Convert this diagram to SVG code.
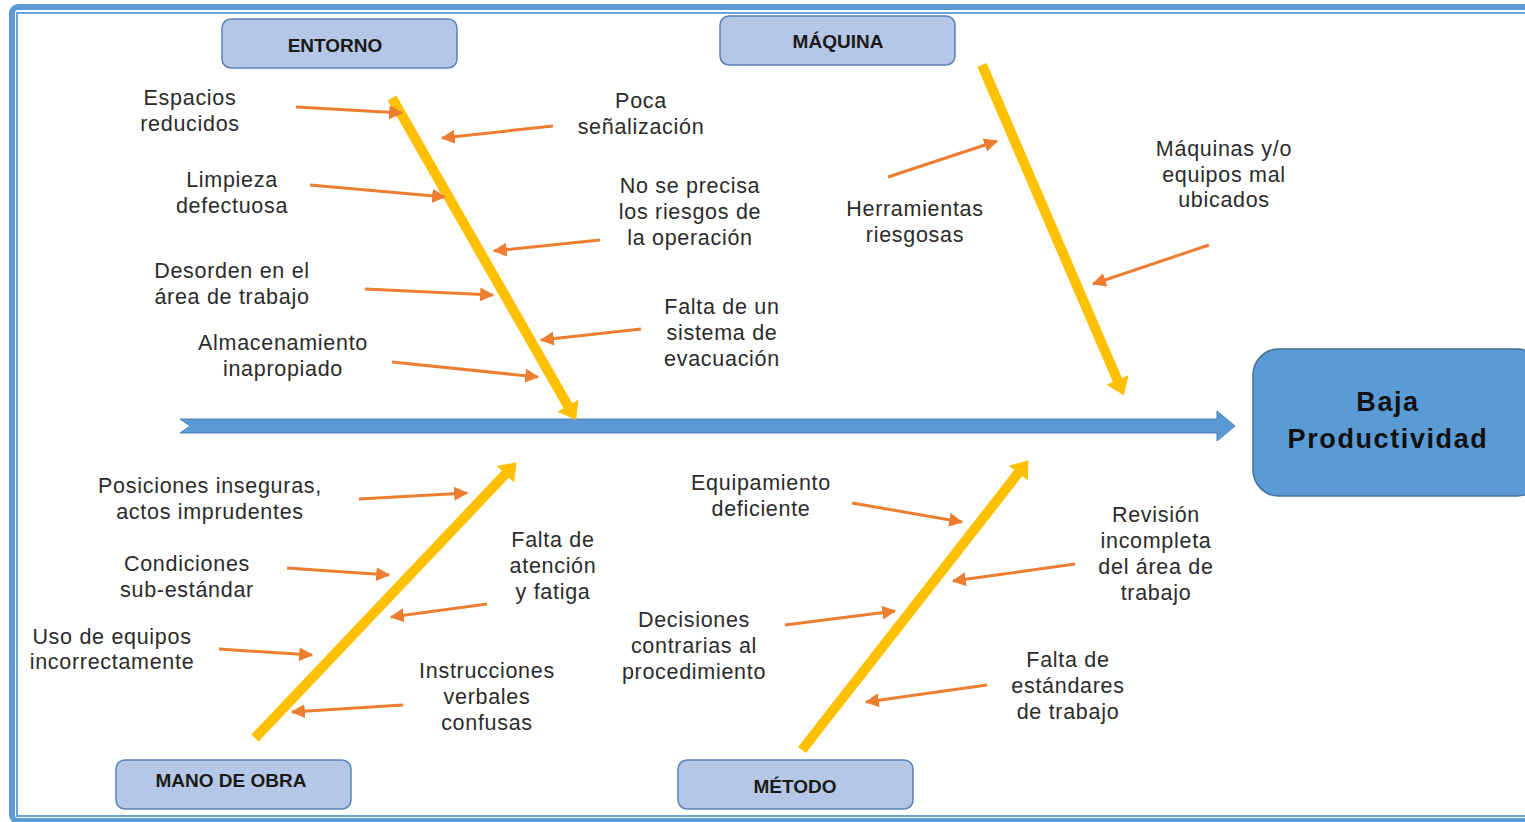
<svg xmlns="http://www.w3.org/2000/svg" width="1525" height="822" viewBox="0 0 1525 822">
<style>
.cat rect{fill:#b4c7e7;stroke:#5b82b8;stroke-width:1.5}
.cat text{font-family:"Liberation Sans",Arial,sans-serif;font-weight:bold;font-size:19px;fill:#1a1a1a;text-anchor:middle}
.lbl{font-family:"Liberation Sans",Arial,sans-serif;font-size:21.5px;fill:#2b2b2b;text-anchor:middle;letter-spacing:0.7px}
.bone{stroke:#ffc000;stroke-width:10;fill:none;marker-end:url(#ya)}
.sub{stroke:#ed7d31;stroke-width:3;fill:none;marker-end:url(#oa)}
</style>
<defs>
<marker id="ya" markerUnits="userSpaceOnUse" markerWidth="20" markerHeight="24" viewBox="0 -11 15 22" refX="1" refY="0" orient="auto"><path d="M0,-11 L15,0 L0,11 Z" fill="#ffc000"/></marker>
<marker id="oa" markerUnits="userSpaceOnUse" markerWidth="14" markerHeight="14" viewBox="0 -6 12 12" refX="11" refY="0" orient="auto"><path d="M0,-6 L12,0 L0,6 Z" fill="#ed7d31"/></marker>
</defs>
<rect width="1525" height="822" fill="#ffffff"/>
<g id="frame">
<rect x="12" y="7" width="1540" height="814" rx="6" fill="none" stroke="#5b9bd5" stroke-width="6"/>
<rect x="17" y="13" width="1530" height="803" fill="none" stroke="#5b9bd5" stroke-width="1.8"/>
</g>
<g id="connectors">
<polygon id="spine" points="180,419 1217,419 1217,411 1235,426 1217,441 1217,433 180,433 190,426" fill="#5b9bd5" stroke="#4a7fb5" stroke-width="1"/>
<line class="bone" x1="392" y1="98" x2="568.5" y2="406.7"/>
<line class="bone" x1="982" y1="65" x2="1117.9" y2="381.1"/>
<line class="bone" x1="255" y1="738" x2="506.1" y2="473.4"/>
<line class="bone" x1="802" y1="750" x2="1019" y2="472.2"/>
<line class="sub" x1="296" y1="107" x2="402" y2="113"/>
<line class="sub" x1="310" y1="185" x2="445" y2="197"/>
<line class="sub" x1="365" y1="289" x2="493" y2="295"/>
<line class="sub" x1="392" y1="362" x2="538" y2="377"/>
<line class="sub" x1="553" y1="126" x2="442" y2="138"/>
<line class="sub" x1="600" y1="240" x2="494" y2="251"/>
<line class="sub" x1="641" y1="329" x2="541" y2="340"/>
<line class="sub" x1="888" y1="177" x2="997" y2="141"/>
<line class="sub" x1="1209" y1="245" x2="1093" y2="284"/>
<line class="sub" x1="359" y1="499" x2="467" y2="493"/>
<line class="sub" x1="287" y1="568" x2="389" y2="575"/>
<line class="sub" x1="219" y1="649" x2="312" y2="655"/>
<line class="sub" x1="487" y1="604" x2="391" y2="617"/>
<line class="sub" x1="403" y1="705" x2="292" y2="712"/>
<line class="sub" x1="852" y1="503" x2="962" y2="522"/>
<line class="sub" x1="785" y1="625" x2="895" y2="611"/>
<line class="sub" x1="1075" y1="564" x2="953" y2="581"/>
<line class="sub" x1="987" y1="685" x2="866" y2="702"/>
</g>
<g id="entorno" class="cat"><rect x="222" y="19" width="235" height="49" rx="9"/><text x="335" y="52">ENTORNO</text></g>
<g id="maquina" class="cat"><rect x="720" y="16" width="235" height="49" rx="9"/><text x="838" y="48">MÁQUINA</text></g>
<g id="mano-de-obra" class="cat"><rect x="116" y="760" width="235" height="49" rx="9"/><text x="231" y="787">MANO DE OBRA</text></g>
<g id="metodo" class="cat"><rect x="678" y="760" width="235" height="49" rx="9"/><text x="795" y="793">MÉTODO</text></g>
<g id="efecto">
<rect x="1253" y="349" width="290" height="147" rx="26" fill="#5b9bd5" stroke="#41719c" stroke-width="1.5"/>
<text font-family="'Liberation Sans',Arial,sans-serif" font-weight="bold" font-size="27px" letter-spacing="1.6" fill="#111" text-anchor="middle"><tspan x="1388" y="411">Baja</tspan><tspan x="1388" y="448">Productividad</tspan></text>
</g>
<g id="causas">
<g id="c-espacios"><text class="lbl"><tspan x="190" y="105">Espacios</tspan><tspan x="190" y="131">reducidos</tspan></text></g>
<g id="c-poca"><text class="lbl"><tspan x="641" y="108">Poca</tspan><tspan x="641" y="134">señalización</tspan></text></g>
<g id="c-limpieza"><text class="lbl"><tspan x="232" y="187">Limpieza</tspan><tspan x="232" y="213">defectuosa</tspan></text></g>
<g id="c-riesgos"><text class="lbl"><tspan x="690" y="193">No se precisa</tspan><tspan x="690" y="219">los riesgos de</tspan><tspan x="690" y="245">la operación</tspan></text></g>
<g id="c-desorden"><text class="lbl"><tspan x="232" y="278">Desorden en el</tspan><tspan x="232" y="304">área de trabajo</tspan></text></g>
<g id="c-evacuacion"><text class="lbl"><tspan x="722" y="314">Falta de un</tspan><tspan x="722" y="340">sistema de</tspan><tspan x="722" y="366">evacuación</tspan></text></g>
<g id="c-almacen"><text class="lbl"><tspan x="283" y="350">Almacenamiento</tspan><tspan x="283" y="376">inapropiado</tspan></text></g>
<g id="c-herramientas"><text class="lbl"><tspan x="915" y="216">Herramientas</tspan><tspan x="915" y="242">riesgosas</tspan></text></g>
<g id="c-maquinas"><text class="lbl"><tspan x="1224" y="156">Máquinas y/o</tspan><tspan x="1224" y="182">equipos mal</tspan><tspan x="1224" y="207">ubicados</tspan></text></g>
<g id="c-posiciones"><text class="lbl"><tspan x="210" y="493">Posiciones inseguras,</tspan><tspan x="210" y="519">actos imprudentes</tspan></text></g>
<g id="c-atencion"><text class="lbl"><tspan x="553" y="547">Falta de</tspan><tspan x="553" y="573">atención</tspan><tspan x="553" y="599">y fatiga</tspan></text></g>
<g id="c-condiciones"><text class="lbl"><tspan x="187" y="571">Condiciones</tspan><tspan x="187" y="597">sub-estándar</tspan></text></g>
<g id="c-uso"><text class="lbl"><tspan x="112" y="644">Uso de equipos</tspan><tspan x="112" y="669">incorrectamente</tspan></text></g>
<g id="c-instrucciones"><text class="lbl"><tspan x="487" y="678">Instrucciones</tspan><tspan x="487" y="704">verbales</tspan><tspan x="487" y="730">confusas</tspan></text></g>
<g id="c-equipamiento"><text class="lbl"><tspan x="761" y="490">Equipamiento</tspan><tspan x="761" y="516">deficiente</tspan></text></g>
<g id="c-revision"><text class="lbl"><tspan x="1156" y="522">Revisión</tspan><tspan x="1156" y="548">incompleta</tspan><tspan x="1156" y="574">del área de</tspan><tspan x="1156" y="600">trabajo</tspan></text></g>
<g id="c-decisiones"><text class="lbl"><tspan x="694" y="627">Decisiones</tspan><tspan x="694" y="653">contrarias al</tspan><tspan x="694" y="679">procedimiento</tspan></text></g>
<g id="c-estandares"><text class="lbl"><tspan x="1068" y="667">Falta de</tspan><tspan x="1068" y="693">estándares</tspan><tspan x="1068" y="719">de trabajo</tspan></text></g>
</g>
</svg>
